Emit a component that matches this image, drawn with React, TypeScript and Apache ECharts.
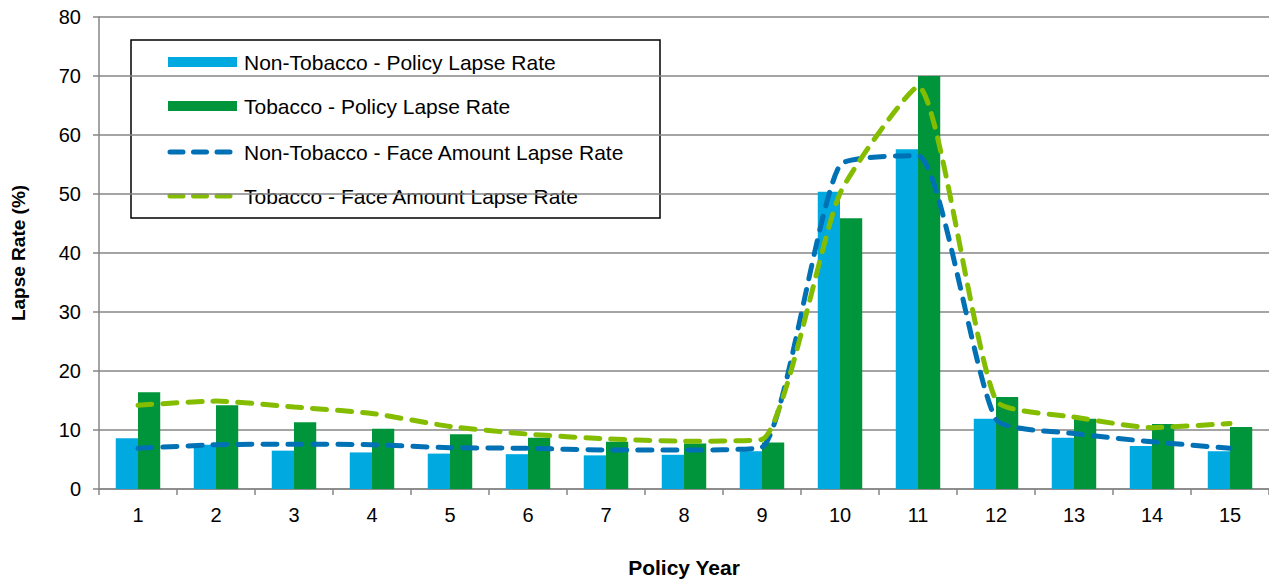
import React, { useEffect, useRef } from "react";
import * as echarts from "echarts";

const policyYears = ["1", "2", "3", "4", "5", "6", "7", "8", "9", "10", "11", "12", "13", "14", "15"];
const nonTobaccoPolicy = [8.6, 7.5, 6.5, 6.2, 6.0, 5.9, 5.7, 5.8, 6.4, 50.4, 57.6, 11.9, 8.7, 7.3, 6.4];
const tobaccoPolicy = [16.4, 14.2, 11.3, 10.2, 9.3, 8.7, 8.0, 7.7, 7.9, 45.9, 70.0, 15.6, 11.9, 11.0, 10.5];
const nonTobaccoFace = [6.9, 7.5, 7.6, 7.5, 7.0, 6.9, 6.6, 6.6, 7.1, 54.9, 56.5, 11.8, 9.4, 8.0, 6.9];
const tobaccoFace = [14.2, 14.9, 13.9, 12.8, 10.6, 9.3, 8.5, 8.1, 8.4, 50.1, 68.2, 15.0, 12.2, 10.4, 11.1];

const seriesNames = [
  "Non-Tobacco - Policy Lapse Rate",
  "Tobacco - Policy Lapse Rate",
  "Non-Tobacco - Face Amount Lapse Rate",
  "Tobacco - Face Amount Lapse Rate",
];
const colors = ["#00A9E0", "#00953A", "#0071B5", "#84BD00"];

const FONT = "'Liberation Sans', Arial, sans-serif";

export default function App() {
  const ref = useRef<HTMLDivElement>(null);
  useEffect(() => {
    const chart = echarts.init(ref.current!, null, { renderer: "svg" });
    const legendYs = [62, 106, 152, 196];
    const legendChildren: any[] = [
      {
        type: "rect",
        shape: { x: 131, y: 40, width: 529, height: 178 },
        style: { fill: "#fff", stroke: "#000", lineWidth: 1.5 },
      },
    ];
    legendYs.forEach((y, i) => {
      if (i < 2) {
        legendChildren.push({
          type: "rect",
          shape: { x: 168, y: y - 5, width: 69, height: 10 },
          style: { fill: colors[i] },
        });
      } else {
        legendChildren.push({
          type: "line",
          shape: { x1: 170, y1: y, x2: 230, y2: y },
          style: { stroke: colors[i], lineWidth: 5, lineDash: [13, 10.5], lineCap: "round" },
        });
      }
      legendChildren.push({
        type: "text",
        x: 244,
        y: y,
        style: {
          text: seriesNames[i],
          fill: "#000",
          fontSize: 21,
          fontFamily: FONT,
          verticalAlign: "middle",
          align: "left",
        },
      });
    });

    chart.setOption({
      animation: false,
      backgroundColor: "#fff",
      grid: { left: 99, right: 0, top: 17, bottom: 95, containLabel: false },
      xAxis: {
        type: "category",
        data: policyYears,
        name: "Policy Year",
        nameLocation: "middle",
        nameGap: 68,
        nameTextStyle: { fontSize: 21, fontWeight: "bold", color: "#000", fontFamily: FONT },
        axisLine: { lineStyle: { color: "#868686", width: 1.5 } },
        axisTick: { show: true, length: 6, lineStyle: { color: "#868686", width: 1.5 } },
        axisLabel: { fontSize: 20, color: "#000", fontFamily: FONT, margin: 16 },
      },
      yAxis: {
        type: "value",
        min: 0,
        max: 80,
        interval: 10,
        name: "Lapse Rate (%)",
        nameLocation: "middle",
        nameGap: 71,
        nameRotate: 90,
        nameTextStyle: { fontSize: 19, fontWeight: "bold", color: "#000", fontFamily: FONT },
        axisLine: { show: true, lineStyle: { color: "#868686", width: 1.5 } },
        axisTick: { show: true, length: 6, lineStyle: { color: "#868686", width: 1.5 } },
        axisLabel: { fontSize: 20, color: "#000", fontFamily: FONT, margin: 18 },
        splitLine: { lineStyle: { color: "#868686", width: 1.5 } },
      },
      series: [
        {
          name: seriesNames[0],
          type: "bar",
          data: nonTobaccoPolicy,
          itemStyle: { color: colors[0] },
          barGap: "0%",
          barCategoryGap: "43%",
        },
        {
          name: seriesNames[1],
          type: "bar",
          data: tobaccoPolicy,
          itemStyle: { color: colors[1] },
          barGap: "0%",
          barCategoryGap: "43%",
        },
        {
          name: seriesNames[2],
          type: "line",
          data: nonTobaccoFace,
          smooth: 0.18,
          symbol: "none",
          lineStyle: { color: colors[2], width: 5, type: [14, 11], cap: "round" },
        },
        {
          name: seriesNames[3],
          type: "line",
          data: tobaccoFace,
          smooth: 0.18,
          symbol: "none",
          lineStyle: { color: colors[3], width: 5, type: [14, 11], cap: "round" },
        },
      ],
      graphic: [{ type: "group", children: legendChildren }],
    });
    return () => chart.dispose();
  }, []);
  return (
    <div
      ref={ref}
      style={{ position: "fixed", left: 0, top: 0, width: 1269, height: 584, background: "#fff" }}
    />
  );
}
